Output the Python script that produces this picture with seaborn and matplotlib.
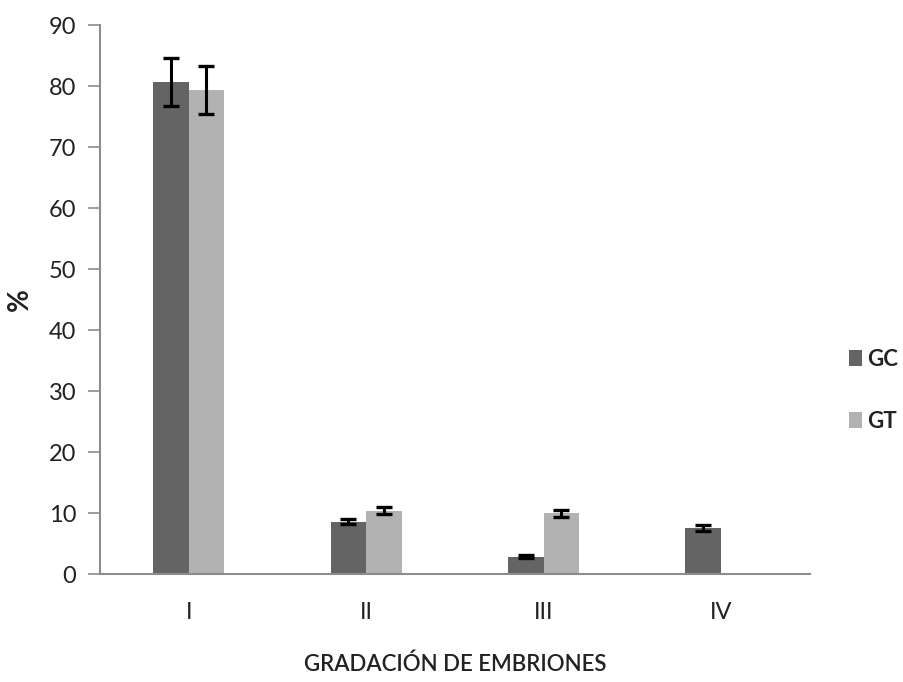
import matplotlib
matplotlib.use("Agg")
import matplotlib.pyplot as plt
import seaborn as sns
import pandas as pd
import numpy as np

categories = ["I", "II", "III", "IV"]
groups = ["GC", "GT"]
gc_values = [80.7, 8.6, 2.9, 7.6]
gt_values = [79.4, 10.4, 10.0, 0.0]
gc_errors = [4.0, 0.4, 0.2, 0.5]
gt_errors = [3.9, 0.6, 0.6, 0.0]
colors = {"GC": "#646464", "GT": "#b2b2b2"}

df = pd.DataFrame({
    "cat": categories * 2,
    "grupo": ["GC"] * 4 + ["GT"] * 4,
    "valor": gc_values + gt_values,
    "err": gc_errors + gt_errors,
})

sns.set_theme(style="white")
plt.rcParams["font.family"] = ["Lato", "DejaVu Sans"]

fig = plt.figure(figsize=(9.04, 6.82), dpi=100)
ax = fig.add_axes([0.1106, 0.158, 0.785, 0.805])

sns.barplot(data=df, x="cat", y="valor", hue="grupo", order=categories,
            hue_order=groups, palette=colors, width=0.4, gap=0,
            errorbar=None, ax=ax, saturation=1, linewidth=0)

# error bars at the centre of each drawn bar
for container, g in zip(ax.containers, groups):
    sub = df[df["grupo"] == g].set_index("cat").loc[categories]
    xs = [p.get_x() + p.get_width() / 2 for p in container.patches]
    for x, v, e in zip(xs, sub["valor"], sub["err"]):
        if v > 0:
            ax.errorbar(x, v, yerr=e, fmt="none", ecolor="black",
                        elinewidth=2.2, capsize=6, capthick=2.4, zorder=5)

ax.set_ylim(0, 90)
ax.set_yticks(np.arange(0, 91, 10))
ax.set_xlim(-0.5, 3.5)
ax.tick_params(axis="y", which="both", left=True, length=9, width=1.2,
               color="#8c8c8c", labelsize=17, pad=8, labelcolor="#222222")
ax.tick_params(axis="x", bottom=False, labelsize=17, pad=14, labelcolor="#222222")
for s in ["top", "right"]:
    ax.spines[s].set_visible(False)
for s in ["left", "bottom"]:
    ax.spines[s].set_color("#8c8c8c")
    ax.spines[s].set_linewidth(1.5)

ax.set_xlabel("GRADACIÓN DE EMBRIONES", fontsize=16, fontweight="semibold",
              labelpad=22, color="#222222")
ax.set_ylabel("%", fontsize=20, fontweight="bold", color="#222222")
ax.yaxis.set_label_coords(-0.095, 0.5)

leg = ax.legend(loc="center left", bbox_to_anchor=(1.033, 0.335), frameon=False,
                fontsize=16, handlelength=0.6, handleheight=0.75,
                handletextpad=0.25, labelspacing=1.85, borderaxespad=0.3)
for t in leg.get_texts():
    t.set_fontweight("bold")
    t.set_color("#222222")

fig.savefig("out.png", dpi=100)
